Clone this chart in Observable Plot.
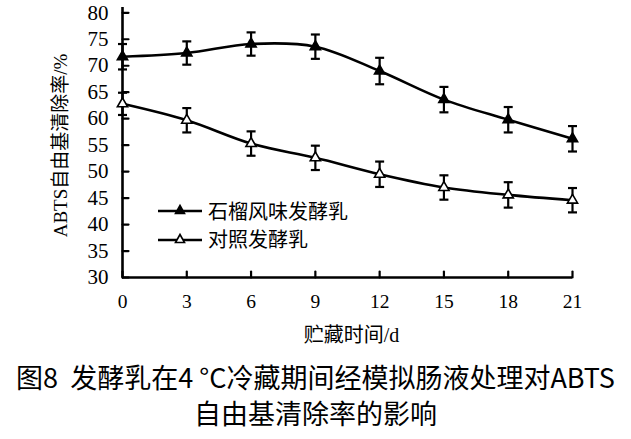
<!DOCTYPE html>
<html>
<head>
<meta charset="utf-8">
<script src="https://cdn.jsdelivr.net/npm/d3@7"></script>
<script src="https://cdn.jsdelivr.net/npm/@observablehq/plot@0.6"></script>
<style>
  html, body { margin: 0; padding: 0; background: #fff; }
  #wrap { position: relative; width: 631px; }
  #legend { position: absolute; left: 158px; top: 196px; font-family: "Noto Sans CJK SC", sans-serif; font-size: 20px; color: #000; }
  #legend .row { display: flex; align-items: center; height: 28.5px; }
  #legend svg { display: block; margin-right: 6px; }
  #caption { font-family: "Noto Sans CJK SC", sans-serif; font-size: 27px; line-height: 36px; text-align: center; color: #000; margin-top: 9px; width: 631px; }
</style>
</head>
<body>
<div id="wrap">
  <div id="chart"></div>
  <div id="legend"></div>
</div>
<div id="caption">图8&nbsp;&nbsp;发酵乳在4 °C冷藏期间经模拟肠液处理对ABTS<br>自由基清除率的影响</div>
<script>
const days = [0, 3, 6, 9, 12, 15, 18, 21];
const pomegranate = [71.7, 72.4, 74.1, 73.6, 69.0, 63.6, 59.8, 56.2];
const pomegranateErr = [2.4, 2.2, 2.2, 2.3, 2.5, 2.4, 2.4, 2.4];
const control = [62.8, 59.7, 55.3, 52.6, 49.5, 47.0, 45.6, 44.6];
const controlErr = [2.1, 2.3, 2.3, 2.3, 2.4, 2.3, 2.4, 2.3];
const seriesNames = ["石榴风味发酵乳", "对照发酵乳"];
const xTicks = [0, 3, 6, 9, 12, 15, 18, 21];
const yTicks = [30, 35, 40, 45, 50, 55, 60, 65, 70, 75, 80];
const xTitle = "贮藏时间/d";
const yTitle = "ABTS自由基清除率/%";

const rows = [];
days.forEach((d, i) => {
  rows.push({series: seriesNames[0], day: d, v: pomegranate[i], e: pomegranateErr[i], filled: true});
});
days.forEach((d, i) => {
  rows.push({series: seriesNames[1], day: d, v: control[i], e: controlErr[i], filled: false});
});

const capSymbol = {draw(ctx) { ctx.moveTo(-4.5, 0); ctx.lineTo(4.5, 0); }};
const tickShape = {draw(ctx, l) { ctx.moveTo(0, 0); ctx.lineTo(0, -l); }};
const serif = "'Liberation Serif', 'Times New Roman', 'Noto Sans CJK SC', serif";

const chart = Plot.plot({
  width: 631,
  height: 350,
  marginLeft: 122,
  marginRight: 59,
  marginTop: 7,
  marginBottom: 73,
  style: {background: "#fff", color: "#000"},
  x: {domain: [0, 21]},
  y: {domain: [30, 81]},
  marks: [
    Plot.axisX({ticks: xTicks, tickSize: 0, tickPadding: 17, fontSize: 19.5, fontFamily: serif, label: null}),
    Plot.axisY({ticks: yTicks, tickSize: 0, tickPadding: 14, fontSize: 21, fontFamily: serif, label: null}),
    Plot.vector(xTicks, {x: d => d, y: 30, length: 6, rotate: 0, anchor: "start", shape: tickShape, stroke: "#000", strokeWidth: 2.2}),
    Plot.vector(yTicks, {x: 0, y: d => d, length: 6, rotate: 90, anchor: "start", shape: tickShape, stroke: "#000", strokeWidth: 2.2}),
    Plot.ruleY([30], {stroke: "#000", strokeWidth: 2.6}),
    Plot.ruleX([0], {stroke: "#000", strokeWidth: 2.6}),
    Plot.ruleX(rows, {x: "day", y1: d => d.v - d.e, y2: d => d.v + d.e, stroke: "#000", strokeWidth: 2.2}),
    Plot.dot(rows, {x: "day", y: d => d.v - d.e, symbol: capSymbol, stroke: "#000", strokeWidth: 2.2}),
    Plot.dot(rows, {x: "day", y: d => d.v + d.e, symbol: capSymbol, stroke: "#000", strokeWidth: 2.2}),
    Plot.line(rows, {x: "day", y: "v", z: "series", curve: "catmull-rom", stroke: "#000", strokeWidth: 2.6}),
    Plot.dot(rows, {x: "day", y: "v", symbol: "triangle", r: 3.8, fill: d => d.filled ? "#000" : "#fff", stroke: "#000", strokeWidth: 1.6}),
    Plot.text([yTitle], {text: d => d, frameAnchor: "left", textAnchor: "middle", lineAnchor: "middle", dx: -62, dy: 3, rotate: -90, fontSize: 19, fontFamily: serif, fill: "#000"}),
    Plot.text([xTitle], {text: d => d, frameAnchor: "bottom", lineAnchor: "middle", dx: 4, dy: 58, fontSize: 20, fontFamily: serif, fill: "#000"})
  ]
});
document.getElementById("chart").appendChild(chart);

const legend = document.getElementById("legend");
seriesNames.forEach((name, i) => {
  const row = document.createElement("div");
  row.className = "row";
  const fill = i === 0 ? "#000" : "#fff";
  row.innerHTML = `<svg width="44" height="14" viewBox="0 0 44 14"><line x1="0" y1="8" x2="44" y2="8" stroke="#000" stroke-width="2.6"/><path d="M22,2.5 L26.5,10.5 L17.5,10.5 Z" fill="${fill}" stroke="#000" stroke-width="1.6"/></svg><span>${name}</span>`;
  legend.appendChild(row);
});
</script>
</body>
</html>
